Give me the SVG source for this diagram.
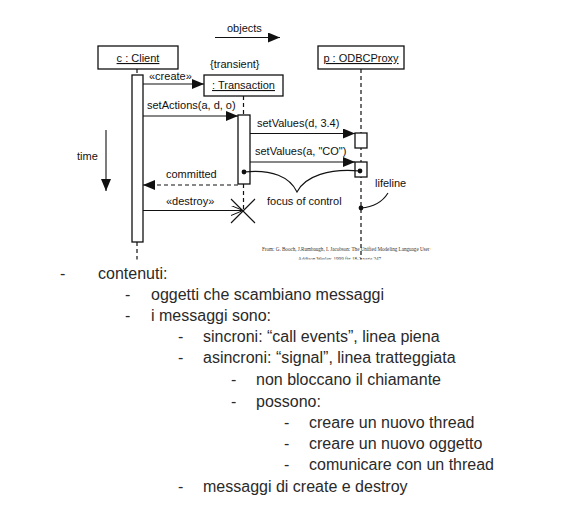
<svg xmlns="http://www.w3.org/2000/svg" width="584" height="511" viewBox="0 0 584 511">
<defs>
<style>
.d{font-family:"Liberation Sans",Arial,sans-serif;font-size:11px;fill:#111}
.u{text-decoration:underline}
.box{fill:#fff;stroke:#111;stroke-width:1.3}
.ln{stroke:#111;stroke-width:1.1;fill:none}
.dash{stroke:#111;stroke-width:1.2;stroke-dasharray:4 3;fill:none}
.b{font-family:"Liberation Sans",Arial,sans-serif;font-size:16px;fill:#2a2a2a}
.cit{font-family:"Liberation Serif","Times New Roman",serif;font-size:5.1px;fill:#333}
</style>
<marker id="fh" viewBox="0 0 12 10" refX="12" refY="5" markerWidth="12" markerHeight="10" markerUnits="userSpaceOnUse" orient="auto">
<path d="M0,0 L12,5 L0,10 z" fill="#111"/>
</marker>
<marker id="oh" viewBox="0 0 12 10" refX="12" refY="5" markerWidth="12" markerHeight="10" markerUnits="userSpaceOnUse" orient="auto">
<path d="M0,0 L12,5 L0,10" fill="none" stroke="#111" stroke-width="1"/>
</marker>
<clipPath id="clip"><rect x="0" y="0" width="431" height="259.5"/></clipPath>
</defs>
<rect width="584" height="511" fill="#fff"/>
<g clip-path="url(#clip)">
<g id="lifelines">
<line class="dash" x1="137" y1="69" x2="137" y2="75"/>
<line class="dash" x1="137" y1="242" x2="137" y2="262"/>
<line class="dash" x1="243.5" y1="96" x2="243.5" y2="115"/>
<line class="dash" x1="243.5" y1="184" x2="243.5" y2="211"/>
<line class="dash" x1="361" y1="69" x2="361" y2="262"/>
</g>
<g id="client">
<rect class="box" x="98" y="46" width="80" height="23"/>
<text class="d u" x="138" y="62" text-anchor="middle">c : Client</text>
<rect class="box" x="132" y="75" width="11" height="167"/>
</g>
<g id="transaction">
<text class="d" x="210" y="68">{transient}</text>
<rect class="box" x="204" y="75" width="79" height="21"/>
<text class="d u" x="243.5" y="89" text-anchor="middle">: Transaction</text>
<rect class="box" x="238" y="115" width="12" height="69"/>
<circle cx="244" cy="172" r="2.4" fill="#111"/>
</g>
<g id="proxy">
<rect class="box" x="318" y="46" width="86" height="23"/>
<text class="d u" x="361" y="62" text-anchor="middle">p : ODBCProxy</text>
<rect class="box" x="355" y="133" width="12" height="15"/>
<rect class="box" x="355" y="162" width="12" height="15"/>
<circle cx="360" cy="171" r="2.4" fill="#111"/>
</g>
<g id="destroy-x">
<line class="ln" x1="231" y1="199" x2="255" y2="223" stroke-width="1.4"/>
<line class="ln" x1="231" y1="223" x2="255" y2="199" stroke-width="1.4"/>
</g>
<g id="connectors">
<line class="ln" x1="215" y1="37.5" x2="280" y2="37.5" marker-end="url(#fh)"/>
<line class="ln" x1="106" y1="130" x2="106" y2="191" marker-end="url(#fh)"/>
<line class="ln" x1="143" y1="84" x2="204" y2="84" marker-end="url(#fh)"/>
<line class="ln" x1="143" y1="116" x2="238" y2="116" marker-end="url(#fh)"/>
<line class="ln" x1="250" y1="133.5" x2="355" y2="133.5" marker-end="url(#fh)"/>
<line class="ln" x1="250" y1="162" x2="355" y2="162" marker-end="url(#fh)"/>
<line class="dash" x1="238" y1="185" x2="143" y2="185" marker-end="url(#fh)"/>
<line class="ln" x1="143" y1="210.5" x2="243" y2="210.5" marker-end="url(#oh)"/>
<path class="ln" d="M244,172 C272,169 290,177 297,192 C305,176 330,168 360,171"/>
<path class="ln" d="M361,208 C375,207 383,201 388,193"/>
<circle cx="361" cy="208" r="2.4" fill="#111"/>
</g>
<g id="labels">
<text class="d" x="227" y="32">objects</text>
<text class="d" x="77" y="160">time</text>
<text class="d" x="149" y="80">«create»</text>
<text class="d" x="147" y="109">setActions(a, d, o)</text>
<text class="d" x="257" y="127">setValues(d, 3.4)</text>
<text class="d" x="255" y="155">setValues(a, "CO")</text>
<text class="d" x="166" y="178">committed</text>
<text class="d" x="166" y="205">«destroy»</text>
<text class="d" x="267" y="205">focus of control</text>
<text class="d" x="375" y="187">lifeline</text>
<text class="cit" x="262" y="251">From: G. Booch, J.Rumbaugh, I. Jacobson: The Unified Modeling Language User Guide</text>
<text class="cit" x="298" y="261">Addison Wesley, 1999 fig 18-2 page 247</text>
</g>
</g>
<g id="bullets">
<text class="b" x="60" y="279">-</text>
<text class="b" x="98" y="279">contenuti:</text>
<text class="b" x="125" y="300">-</text>
<text class="b" x="151" y="300">oggetti che scambiano messaggi</text>
<text class="b" x="125" y="321">-</text>
<text class="b" x="151" y="321">i messaggi sono:</text>
<text class="b" x="178" y="342">-</text>
<text class="b" x="203" y="342">sincroni: “call events”, linea piena</text>
<text class="b" x="178" y="363">-</text>
<text class="b" x="203" y="363">asincroni: “signal”, linea tratteggiata</text>
<text class="b" x="231" y="385">-</text>
<text class="b" x="256" y="385">non bloccano il chiamante</text>
<text class="b" x="231" y="407">-</text>
<text class="b" x="256" y="407">possono:</text>
<text class="b" x="284" y="428">-</text>
<text class="b" x="309" y="428">creare un nuovo thread</text>
<text class="b" x="284" y="449">-</text>
<text class="b" x="309" y="449">creare un nuovo oggetto</text>
<text class="b" x="284" y="470">-</text>
<text class="b" x="309" y="470">comunicare con un thread</text>
<text class="b" x="178" y="492">-</text>
<text class="b" x="203" y="492">messaggi di create e destroy</text>
</g>
</svg>
